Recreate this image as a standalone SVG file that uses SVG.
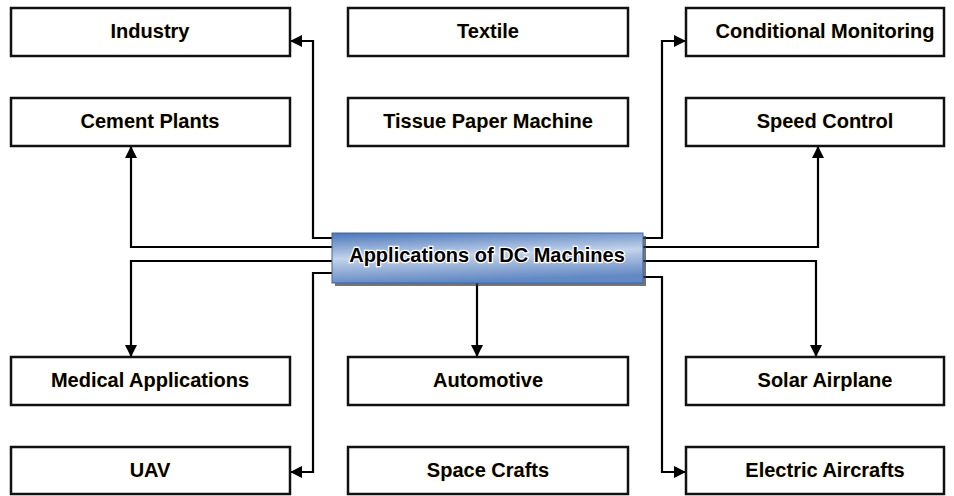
<svg xmlns="http://www.w3.org/2000/svg" width="954" height="496" viewBox="0 0 954 496">
<defs>
<style>
.box{fill:#fff;stroke:#111;stroke-width:2.5}
.lbl{font-family:"Liberation Sans",Arial,sans-serif;font-weight:bold;font-size:20px;fill:#000;text-anchor:middle;stroke:#fff8e0;stroke-width:1.5;paint-order:stroke}
.conn{fill:none;stroke:#000;stroke-width:2.2}
</style>
<marker id="ah" viewBox="0 0 12 12" refX="11" refY="6" markerWidth="12" markerHeight="12" markerUnits="userSpaceOnUse" orient="auto">
<path d="M0,0 L12,6 L0,12 Z" fill="#000"/>
</marker>
<linearGradient id="cg" x1="0" y1="0" x2="0.2" y2="1">
<stop offset="0" stop-color="#4a76b8"/>
<stop offset="0.5" stop-color="#c3d3eb"/>
<stop offset="1" stop-color="#6389c4"/>
</linearGradient>
</defs>
<rect width="954" height="496" fill="#fff"/>
<g id="connectors">
<path class="conn" d="M332,238 H313 V41 H291" marker-end="url(#ah)"/>
<path class="conn" d="M332,247 H131 V147" marker-end="url(#ah)"/>
<path class="conn" d="M332,261 H131 V356" marker-end="url(#ah)"/>
<path class="conn" d="M332,273 H313 V472 H291" marker-end="url(#ah)"/>
<path class="conn" d="M477,283 V356" marker-end="url(#ah)"/>
<path class="conn" d="M643,238 H662 V41 H685" marker-end="url(#ah)"/>
<path class="conn" d="M643,247 H818 V147" marker-end="url(#ah)"/>
<path class="conn" d="M643,261 H816 V356" marker-end="url(#ah)"/>
<path class="conn" d="M643,277 H662 V472 H685" marker-end="url(#ah)"/>
</g>
<g id="center">
<rect x="335" y="236" width="311" height="50" fill="#3a3a3a" opacity="0.7"/>
<rect x="332" y="233" width="311" height="50" fill="url(#cg)" stroke="#3f67a6" stroke-width="1"/>
<text class="lbl" x="487" y="262" style="stroke:#fff;stroke-width:2.5">Applications of DC Machines</text>
</g>
<g id="industry"><rect class="box" x="11" y="8" width="279" height="48"/><text class="lbl" x="150" y="38">Industry</text></g>
<g id="cement"><rect class="box" x="11" y="98" width="279" height="48"/><text class="lbl" x="150" y="128">Cement Plants</text></g>
<g id="textile"><rect class="box" x="348" y="8" width="280" height="48"/><text class="lbl" x="488" y="38">Textile</text></g>
<g id="tissue"><rect class="box" x="348" y="98" width="280" height="48"/><text class="lbl" x="488" y="128">Tissue Paper Machine</text></g>
<g id="condmon"><rect class="box" x="686" y="8" width="258" height="48"/><text class="lbl" x="825" y="38">Conditional Monitoring</text></g>
<g id="speed"><rect class="box" x="686" y="98" width="258" height="48"/><text class="lbl" x="825" y="128">Speed Control</text></g>
<g id="medical"><rect class="box" x="11" y="357" width="279" height="48"/><text class="lbl" x="150" y="387">Medical Applications</text></g>
<g id="uav"><rect class="box" x="11" y="447" width="279" height="47"/><text class="lbl" x="150" y="477">UAV</text></g>
<g id="automotive"><rect class="box" x="348" y="357" width="280" height="48"/><text class="lbl" x="488" y="387">Automotive</text></g>
<g id="space"><rect class="box" x="348" y="447" width="280" height="47"/><text class="lbl" x="488" y="477">Space Crafts</text></g>
<g id="solar"><rect class="box" x="686" y="357" width="258" height="48"/><text class="lbl" x="825" y="387">Solar Airplane</text></g>
<g id="electric"><rect class="box" x="686" y="447" width="258" height="47"/><text class="lbl" x="825" y="477">Electric Aircrafts</text></g>
</svg>
